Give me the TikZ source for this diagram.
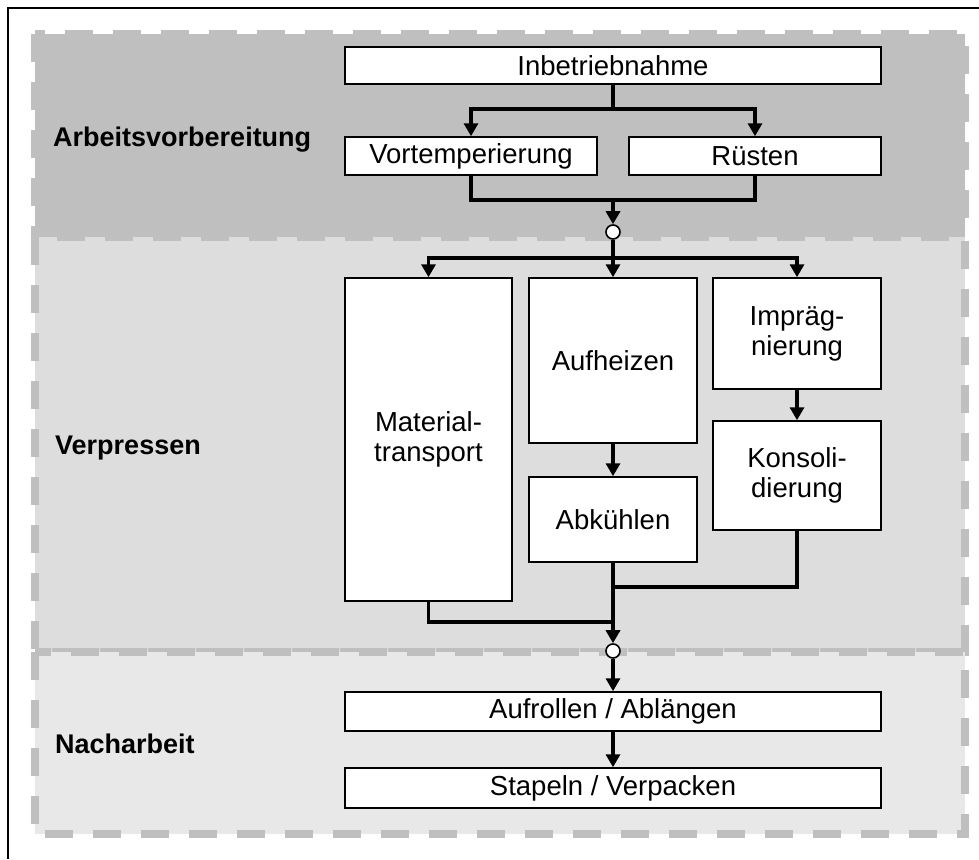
\documentclass[tikz,border=0pt]{standalone}
\usepackage{fontspec}
\setmainfont{Liberation Sans}
\usetikzlibrary{arrows.meta}
\definecolor{regA}{RGB}{191,191,191}
\definecolor{regB}{RGB}{221,221,221}
\definecolor{regC}{RGB}{232,232,232}
\definecolor{dashgray}{RGB}{191,191,191}
\tikzset{
  region/.style={fill=#1, draw=dashgray, line width=8pt, dash pattern=on 28pt off 20pt},
  box/.style={draw=black, fill=white, line width=1.5pt, inner sep=0pt, align=center,
    font=\fontsize{27.5}{30}\selectfont},
  phase/.style={anchor=base west, inner sep=0pt, font=\fontsize{27}{31}\selectfont\bfseries},
  junction/.style={circle, draw=black, fill=white, line width=1.6pt, minimum size=14pt, inner sep=0pt},
  conn/.style={line width=3.4pt, draw=black},
  arr/.style={conn, -{Triangle[length=13pt,width=14pt]}}
}
\begin{document}
\begin{tikzpicture}[x=1pt,y=-1pt]
\useasboundingbox (0,0) rectangle (979,859);
\fill[white] (0,0) rectangle (979,859);
% outer frame (right and bottom edges lie outside the picture)
\draw[line width=2pt] (979,8) -- (8,8) -- (8,859);
% regions
\path[region=regA] (35,34) rectangle (965,237);
\path[region=regB] (35,237) rectangle (965,652);
\path[region=regC] (35,652) rectangle (965,834);
% phase labels
\node[phase] (lblA) at (53,146.5) {Arbeitsvorbereitung};
\node[phase] (lblB) at (55,454) {Verpressen};
\node[phase] (lblC) at (55,753.5) {Nacharbeit};
% boxes
\node[box, minimum width=536pt, minimum height=37pt] (inb) at (613,65.5) {Inbetriebnahme};
\node[box, minimum width=252pt, minimum height=38pt] (vor) at (471,156) {Vortemperierung};
\node[box, minimum width=252pt, minimum height=38pt] (rue) at (755,156) {Rüsten};
\node[box, minimum width=167pt, minimum height=323pt] (mat) at (428.5,439.5) {Material-\\transport};
\node[box, minimum width=168pt, minimum height=165pt] (auf) at (613,360.5) {Aufheizen};
\node[box, minimum width=168pt, minimum height=85pt] (abk) at (613,519.5) {Abkühlen};
\node[box, minimum width=168pt, minimum height=111pt] (imp) at (797,333.5) {Imprä\-g-\\nierung};
\node[box, minimum width=168pt, minimum height=109pt] (kon) at (797,475.5) {Konsoli-\\dierung};
\node[box, minimum width=536pt, minimum height=39pt] (aufr) at (613,711.5) {Aufrollen / Ablängen};
\node[box, minimum width=536pt, minimum height=40pt] (stap) at (613,788) {Stapeln / Verpacken};
% junctions
\node[junction] (c1) at (613,232) {};
\node[junction] (c2) at (613,651) {};
\coordinate (s1) at (613,109);
\coordinate (m1) at (613,200);
\coordinate (s2) at (613,258);
\coordinate (m3) at (613,587);
\coordinate (m4) at (613,622);
% connectors
\draw[conn] (inb.south) -- (s1);
\draw[arr] (s1) -| (vor.north);
\draw[arr] (s1) -| (rue.north);
\draw[conn] (vor.south) |- (m1);
\draw[conn] (rue.south) |- (m1);
\draw[arr] (m1) -- (c1.north);
\draw[conn] (c1.south) -- (s2);
\draw[arr] (s2) -| (mat.north);
\draw[arr] (s2) -- (auf.north);
\draw[arr] (s2) -| (imp.north);
\draw[arr] (auf.south) -- (abk.north);
\draw[arr] (imp.south) -- (kon.north);
\draw[conn] (kon.south) |- (m3);
\draw[conn] (mat.south) |- (m4);
\draw[arr] (abk.south) -- (c2.north);
\draw[arr] (c2.south) -- (aufr.north);
\draw[arr] (aufr.south) -- (stap.north);
\end{tikzpicture}
\end{document}
